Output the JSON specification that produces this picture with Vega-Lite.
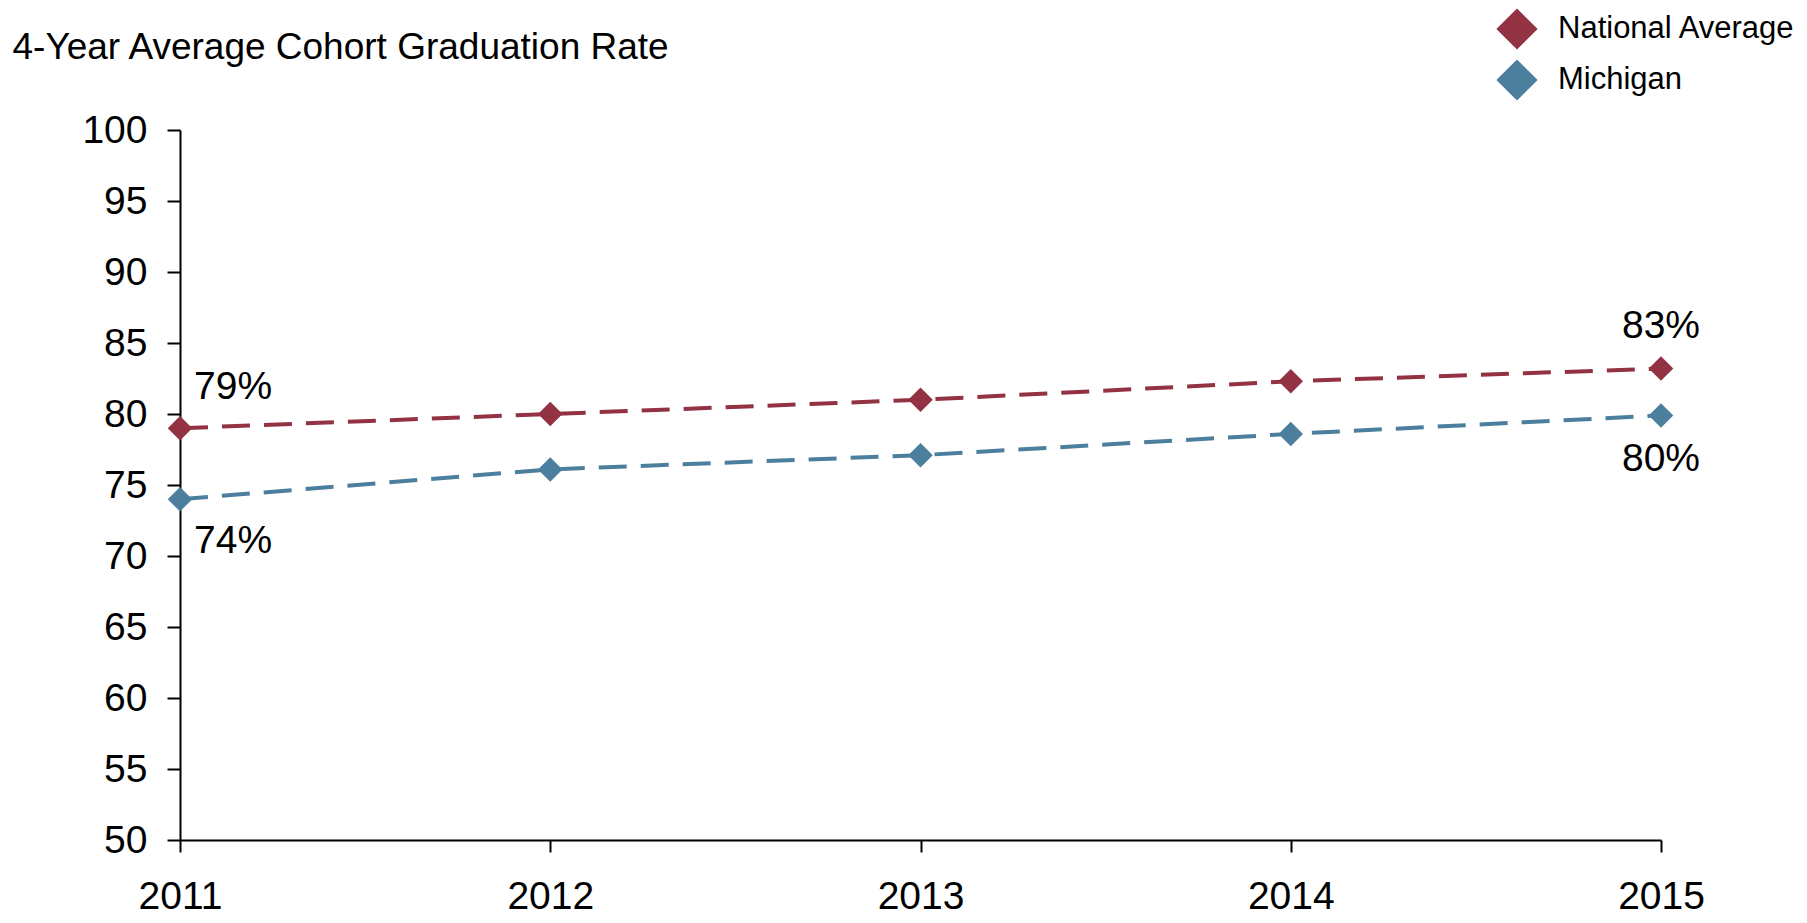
{
  "$schema": "https://vega.github.io/schema/vega-lite/v6.json",
  "autosize": {"type": "none"},
  "width": 1481,
  "height": 710,
  "padding": {"left": 180, "top": 130, "right": 146, "bottom": 83},
  "background": "white",
  "config": {
    "view": {"stroke": null},
    "font": "Liberation Sans",
    "axis": {
      "domainColor": "black",
      "domainWidth": 2,
      "tickColor": "black",
      "tickWidth": 2,
      "grid": false,
      "labelFont": "Liberation Sans",
      "labelFontSize": 39,
      "labelColor": "black",
      "labelFlush": false,
      "labelOverlap": false
    },
    "legend": {
      "orient": "none",
      "legendX": 1316,
      "legendY": -122,
      "padding": 0,
      "symbolType": "diamond",
      "symbolSize": 1700,
      "symbolStrokeWidth": 0,
      "symbolOpacity": 1,
      "labelFont": "Liberation Sans",
      "labelFontSize": 31,
      "labelColor": "black",
      "labelOffset": 20,
      "rowPadding": 9,
      "labelLimit": 400
    }
  },
  "data": {
    "values": [
      {"year": 2011, "series": "National Average", "rate": 79.0, "label": "79%"},
      {"year": 2012, "series": "National Average", "rate": 80.0, "label": null},
      {"year": 2013, "series": "National Average", "rate": 81.0, "label": null},
      {"year": 2014, "series": "National Average", "rate": 82.3, "label": null},
      {"year": 2015, "series": "National Average", "rate": 83.2, "label": "83%"},
      {"year": 2011, "series": "Michigan", "rate": 74.0, "label": "74%"},
      {"year": 2012, "series": "Michigan", "rate": 76.1, "label": null},
      {"year": 2013, "series": "Michigan", "rate": 77.1, "label": null},
      {"year": 2014, "series": "Michigan", "rate": 78.6, "label": null},
      {"year": 2015, "series": "Michigan", "rate": 79.9, "label": "80%"}
    ]
  },
  "encoding": {
    "x": {
      "field": "year",
      "type": "quantitative",
      "scale": {"domain": [2011, 2015], "nice": false, "zero": false},
      "axis": {"title": null, "values": [2011, 2012, 2013, 2014, 2015], "format": "d", "tickSize": 12, "labelPadding": 25}
    },
    "y": {
      "field": "rate",
      "type": "quantitative",
      "scale": {"domain": [50, 100], "nice": false, "zero": false},
      "axis": {
        "title": "4-Year Average Cohort Graduation Rate",
        "titleX": -168,
        "titleY": -72,
        "titleAngle": 0,
        "titleAlign": "left",
        "titleBaseline": "alphabetic",
        "titleFont": "Liberation Sans",
        "titleFontSize": 37,
        "titleFontWeight": "normal",
        "titleColor": "black",
        "values": [50, 55, 60, 65, 70, 75, 80, 85, 90, 95, 100],
        "tickSize": 13,
        "labelPadding": 20
      }
    }
  },
  "layer": [
    {
      "mark": {"type": "line", "strokeWidth": 4, "strokeDash": [28, 14]},
      "encoding": {
        "color": {
          "field": "series",
          "type": "nominal",
          "scale": {"domain": ["National Average", "Michigan"], "range": ["#923243", "#4C7F9D"]},
          "legend": {"title": null}
        }
      }
    },
    {
      "mark": {"type": "point", "shape": "diamond", "filled": true, "size": 600, "opacity": 1, "strokeWidth": 0},
      "encoding": {
        "color": {
          "field": "series",
          "type": "nominal",
          "scale": {"domain": ["National Average", "Michigan"], "range": ["#923243", "#4C7F9D"]},
          "legend": {"title": null}
        }
      }
    },
    {
      "transform": [{"filter": "datum.year == 2011 && datum.series == 'National Average'"}],
      "mark": {"type": "text", "align": "left", "baseline": "middle", "dx": 14, "dy": -41, "fontSize": 39, "font": "Liberation Sans", "color": "black"},
      "encoding": {"text": {"field": "label"}}
    },
    {
      "transform": [{"filter": "datum.year == 2011 && datum.series == 'Michigan'"}],
      "mark": {"type": "text", "align": "left", "baseline": "middle", "dx": 14, "dy": 42, "fontSize": 39, "font": "Liberation Sans", "color": "black"},
      "encoding": {"text": {"field": "label"}}
    },
    {
      "transform": [{"filter": "datum.year == 2015 && datum.series == 'National Average'"}],
      "mark": {"type": "text", "align": "center", "baseline": "middle", "dy": -43, "fontSize": 39, "font": "Liberation Sans", "color": "black"},
      "encoding": {"text": {"field": "label"}}
    },
    {
      "transform": [{"filter": "datum.year == 2015 && datum.series == 'Michigan'"}],
      "mark": {"type": "text", "align": "center", "baseline": "middle", "dy": 44, "fontSize": 39, "font": "Liberation Sans", "color": "black"},
      "encoding": {"text": {"field": "label"}}
    }
  ]
}
